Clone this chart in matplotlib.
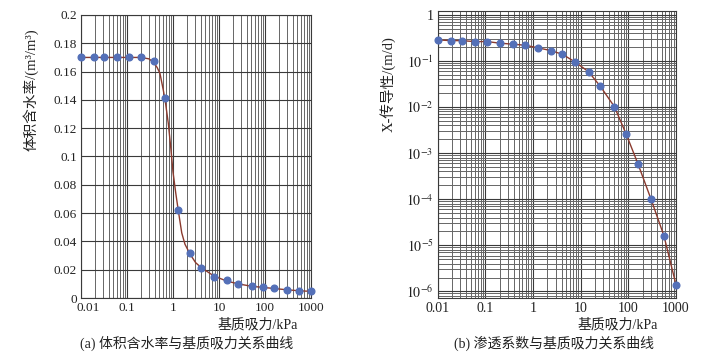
import matplotlib.pyplot as plt
from matplotlib.ticker import FixedLocator, FuncFormatter, LogLocator, NullFormatter
from matplotlib.transforms import ScaledTranslation

# 字体: 拉丁字符用衬线体, 中文回退到 Noto Sans CJK
plt.rcParams['font.family'] = ['Liberation Serif', 'Noto Sans CJK SC']
plt.rcParams['mathtext.fontset'] = 'stix'
plt.rcParams['axes.unicode_minus'] = False

# 实测点 (基质吸力 kPa)
suction = [0.01, 0.019, 0.032, 0.06, 0.11, 0.2, 0.38, 0.68, 1.3, 2.35,
           4.1, 7.8, 14.7, 26, 51, 90, 160, 300, 560, 1000]
theta = [0.170, 0.170, 0.170, 0.170, 0.170, 0.170, 0.1675, 0.141, 0.0624, 0.0316,
         0.0212, 0.0151, 0.0125, 0.0099, 0.0083, 0.0075, 0.0068, 0.0057, 0.0049, 0.0047]
conductivity = [0.286, 0.276, 0.276, 0.263, 0.263, 0.243, 0.231, 0.219, 0.192, 0.168,
                0.140, 0.094, 0.058, 0.028, 0.0102, 0.0026, 5.8e-4, 1.0e-4, 1.6e-5, 1.4e-6]

# 拟合曲线
fit_x = [0.01, 0.2, 0.3, 0.38, 0.45, 0.52, 0.615, 0.68, 0.79, 0.89, 1.0, 1.15, 1.3,
         1.55, 1.82, 2.35, 3.1, 4.1, 7.8, 14.7, 26, 51, 90, 160, 300, 560, 1000]
fit_theta = [0.170, 0.170, 0.169, 0.1665, 0.163, 0.1588, 0.147, 0.139, 0.1235, 0.107,
             0.089, 0.074, 0.062, 0.046, 0.038, 0.031, 0.025, 0.0215, 0.0155, 0.012,
             0.010, 0.0083, 0.0075, 0.0067, 0.0058, 0.0051, 0.0047]

x_ticks = [0.01, 0.1, 1, 10, 100, 1000]
x_labels = ['0.01', '0.1', '1', '10', '100', '1000']
theta_ticks = [0, 0.02, 0.04, 0.06, 0.08, 0.1, 0.12, 0.14, 0.16, 0.18, 0.2]
k_ticks = [1, 1e-1, 1e-2, 1e-3, 1e-4, 1e-5, 1e-6]
k_labels = ['1', r'$10^{-1}$', r'$10^{-2}$', r'$10^{-3}$', r'$10^{-4}$', r'$10^{-5}$', r'$10^{-6}$']

dot_color = '#5470b8'
line_color = '#8b3a2e'
grid_major = '#3a3a3a'
grid_minor = '#666666'
text_color = '#222222'

fig = plt.figure(figsize=(7.27, 3.61), dpi=100)
ax1 = fig.add_axes([0.1114, 0.1745, 0.3164, 0.784])
ax2 = fig.add_axes([0.602, 0.1737, 0.3278, 0.796])


def style_log_x(ax, first_shift):
    ax.set_xscale('log')
    ax.set_xlim(0.01, 1000)
    ax.xaxis.set_major_locator(FixedLocator(x_ticks))
    ax.set_xticklabels(x_labels)
    ax.xaxis.set_minor_locator(LogLocator(base=10, subs=range(2, 10)))
    ax.xaxis.set_minor_formatter(NullFormatter())
    ax.grid(True, which='major', axis='x', color=grid_major, lw=0.8)
    ax.grid(True, which='minor', axis='x', color=grid_minor, lw=0.7)
    ax.tick_params(which='both', length=0, labelsize=9.5, colors=text_color, pad=3)
    for s in ax.spines.values():
        s.set_color(grid_major)
        s.set_linewidth(0.8)
    ax.set_axisbelow(True)
    # 原图中 "0.01" 略向右偏
    lab = ax.get_xticklabels()[0]
    lab.set_transform(lab.get_transform() + ScaledTranslation(first_shift / 100, 0, fig.dpi_scale_trans))


# (a) 体积含水率
style_log_x(ax1, 7)
ax1.set_ylim(0, 0.2)
ax1.yaxis.set_major_locator(FixedLocator(theta_ticks))
ax1.yaxis.set_major_formatter(FuncFormatter(lambda v, p: '0' if v == 0 else f'{v:g}'))
ax1.grid(True, which='major', axis='y', color=grid_major, lw=0.8)
ax1.plot(fit_x, fit_theta, color=line_color, lw=1.0, zorder=3)
ax1.plot(suction, theta, 'o', color=dot_color, ms=4.8, zorder=4, clip_on=False)
ax1.set_ylabel('体积含水率/(m³/m³)', fontsize=10.5, color=text_color)
ax1.yaxis.set_label_coords(-0.183, 0.735)
ax1.text(0.943, -0.095, '基质吸力/kPa', transform=ax1.transAxes, ha='right', va='center',
         fontsize=10, color=text_color)
ax1.text(0.46, -0.16, '(a) 体积含水率与基质吸力关系曲线', transform=ax1.transAxes,
         ha='center', va='center', fontsize=10, color=text_color)

# (b) 渗透系数
style_log_x(ax2, 9)
ax2.set_yscale('log')
ax2.set_ylim(10 ** -6.15, 10 ** 0.085)
ax2.yaxis.set_major_locator(FixedLocator(k_ticks))
ax2.set_yticklabels(k_labels)
ax2.yaxis.set_minor_locator(LogLocator(base=10, subs=range(2, 10), numticks=20))
ax2.yaxis.set_minor_formatter(NullFormatter())
ax2.grid(True, which='major', axis='y', color=grid_major, lw=0.8)
ax2.grid(True, which='minor', axis='y', color=grid_minor, lw=0.7)
ax2.tick_params(which='both', length=0, labelsize=10, colors=text_color, pad=3)
ax2.plot(suction, conductivity, color=line_color, lw=1.0, zorder=3)
ax2.plot(suction, conductivity, 'o', color=dot_color, ms=4.8, zorder=4, clip_on=False)
ax2.set_ylabel('X-传导性/(m/d)', fontsize=10.5, color=text_color)
ax2.yaxis.set_label_coords(-0.175, 0.746)
ax2.text(0.924, -0.093, '基质吸力/kPa', transform=ax2.transAxes, ha='right', va='center',
         fontsize=10, color=text_color)
ax2.text(0.49, -0.157, '(b) 渗透系数与基质吸力关系曲线', transform=ax2.transAxes,
         ha='center', va='center', fontsize=10, color=text_color)

fig.savefig('out.png', dpi=100, facecolor='white')
